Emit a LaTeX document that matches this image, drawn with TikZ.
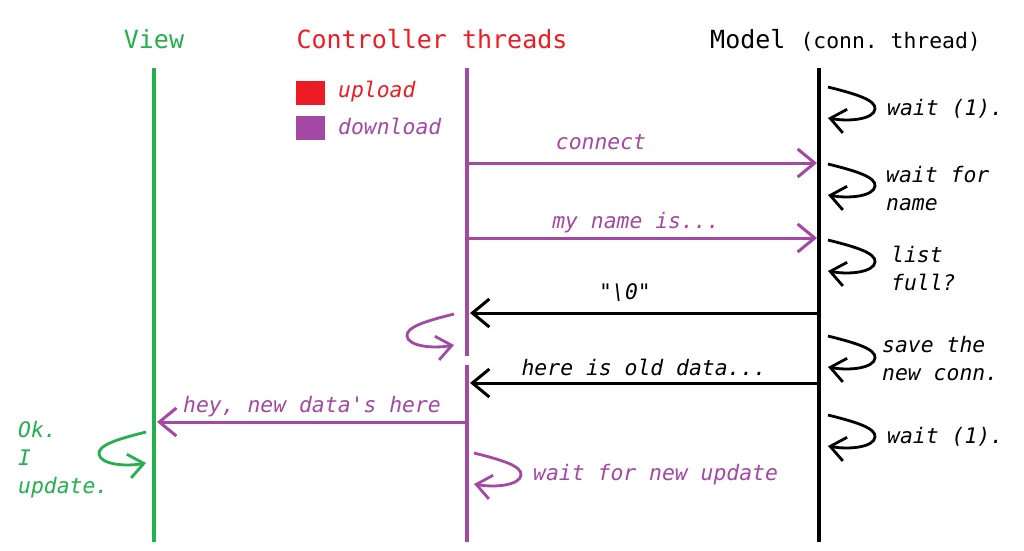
\documentclass[tikz,border=0pt]{standalone}
\usepackage{fontspec}
\setmonofont{DejaVu Sans Mono}
\usetikzlibrary{arrows.meta,positioning}
\definecolor{viewgreen}{RGB}{34,177,76}
\definecolor{ctrlred}{RGB}{237,28,36}
\definecolor{ctrlpurple}{RGB}{163,73,164}
\tikzset{
  title/.style={anchor=base,inner sep=0pt,font=\ttfamily\fontsize{25}{30}\selectfont},
  note/.style={anchor=base west,inner sep=0pt,align=left,font=\ttfamily\itshape\fontsize{21.4}{27.8}\selectfont},
  msglabel/.style={anchor=base,inner sep=0pt,font=\ttfamily\itshape\fontsize{21.4}{27.8}\selectfont},
  legendbox/.style={minimum width=29pt,minimum height=24pt,inner sep=0pt},
  lifeline/.style={line width=3.2pt},
  msg/.style={line width=3pt,-{Straight Barb[length=17pt,width=28pt]}},
  curl/.pic={
    \draw[line width=2.8pt,-{Straight Barb[length=15pt,width=24pt]}]
      (0,0) .. controls (28,7) and (48,13) .. (47,22)
            .. controls (46,32) and (22,35) .. (0,31);
  }
}

\begin{document}
\begin{tikzpicture}[x=1pt,y=-1pt]
\fill[white] (0,0) rectangle (1024,550);
\useasboundingbox (0,0) rectangle (1024,550);

% heads
\node[title,viewgreen] (view) at (154,48) {View};
\node[title,ctrlred] (ctrl) at (432,48) {Controller threads};
\node[title,anchor=base west] (model) at (710,48) {Model {\fontsize{21.4}{28}\selectfont(conn. thread)}};

% legend
\node[legendbox,fill=ctrlred] (upbox) at (310.5,93) {};
\node[legendbox,fill=ctrlpurple,below=11pt of upbox] (downbox) {};
\node[note,ctrlred] (uplabel) at (338,97) {upload};
\node[note,ctrlpurple] (downlabel) at (338,134) {download};

% lifelines
\coordinate (viewtop) at (154,68);
\coordinate (viewbot) at (154,542);
\coordinate (ctrltop) at (467,68);
\coordinate (ctrlgapa) at (467,356);
\coordinate (ctrlgapb) at (467,365);
\coordinate (ctrlbot) at (467,542);
\coordinate (modeltop) at (819,68);
\coordinate (modelbot) at (819,542);

\draw[lifeline,viewgreen] (viewtop) -- (viewbot);
\draw[lifeline,ctrlpurple] (ctrltop) -- (ctrlgapa);
\draw[lifeline,ctrlpurple] (ctrlgapb) -- (ctrlbot);
\draw[lifeline,black] (modeltop) -- (modelbot);

% messages
\coordinate (conna) at (467,163);
\coordinate (connb) at (817,163);
\coordinate (namea) at (467,238);
\coordinate (nameb) at (817,238);
\coordinate (zeroa) at (819,313);
\coordinate (zerob) at (470,313);
\coordinate (olda) at (819,383);
\coordinate (oldb) at (470,383);
\coordinate (heya) at (467,422);
\coordinate (heyb) at (157,422);

\draw[msg,ctrlpurple] (conna) -- (connb);
\draw[msg,ctrlpurple] (namea) -- (nameb);
\draw[msg,black] (zeroa) -- (zerob);
\draw[msg,black] (olda) -- (oldb);
\draw[msg,ctrlpurple] (heya) -- (heyb);

\node[msglabel,ctrlpurple] (connlabel) at (601,149) {connect};
\node[msglabel,ctrlpurple] (namelabel) at (636,228) {my name is...};
\node[msglabel] (zerolabel) at (625,299) {"\textbackslash 0"};
\node[msglabel] (oldlabel) at (644,375) {here is old data...};
\node[msglabel,ctrlpurple] (heylabel) at (312,412) {hey, new data's here};

% self calls
\pic[black] at (828,87) {curl};
\pic[black] at (828,164) {curl};
\pic[black] at (828,240) {curl};
\pic[black] at (828,336) {curl};
\pic[black] at (828,415) {curl};
\pic[ctrlpurple,xscale=-1] at (454,314) {curl};
\pic[ctrlpurple] at (474,453) {curl};
\pic[viewgreen,xscale=-1] at (146,432) {curl};

% last line of each note sits on the given baseline
\node[note] (wait1) at (887,115) {wait (1).};
\node[note] (waitname) at (886,210) {wait for\\name};
\node[note] (listfull) at (891,290) {list\\full?};
\node[note] (saveconn) at (882,380) {save the\\new conn.};
\node[note] (wait2) at (887,443) {wait (1).};
\node[note,ctrlpurple] (waitupd) at (533,480) {wait for new update};
\node[note,viewgreen] (okupd) at (18,493) {Ok.\\I\\update.};

\end{tikzpicture}
\end{document}
